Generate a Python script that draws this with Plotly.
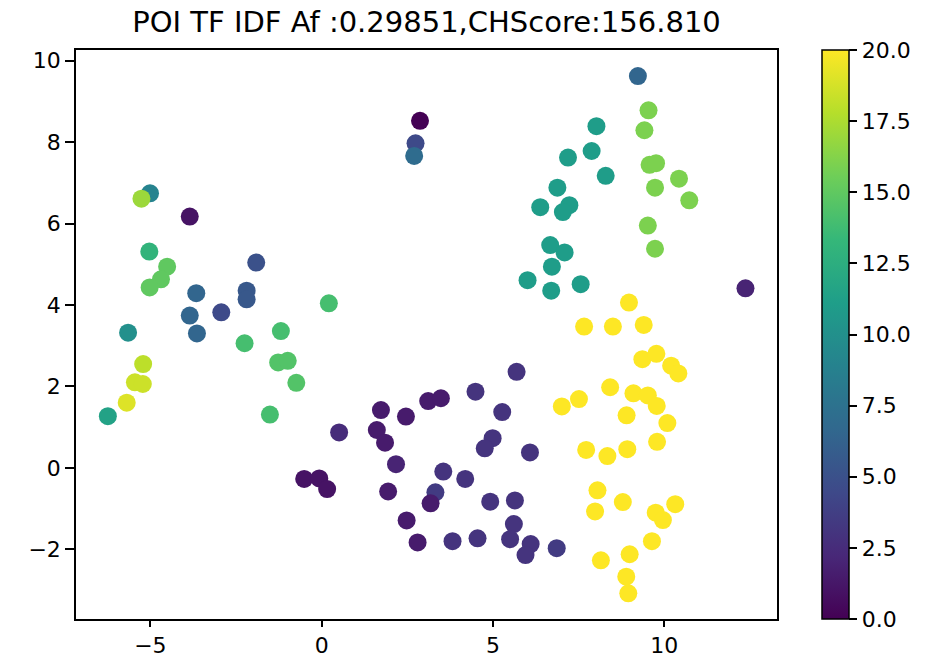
import plotly.graph_objects as go

# Point coordinates
x_vals = [
    -5.01, -5.26, -3.85, -5.03, -4.51, -4.69, -5.02, -1.91, -2.19, -2.19,
    -3.66, -3.85, -3.64, -2.93, 0.21, -5.65, -1.19, -2.25,
    -5.21, -5.45, -5.22, -5.69, -6.24, -1.27, -0.99, -0.74, -1.51,
    0.51, -0.51, -0.07, 0.16,
    1.73, 1.61, 1.85, 2.46, 3.11, 3.48, 4.49, 5.69, 5.27, 4.99, 4.76, 6.08,
    2.17, 3.55, 4.19, 1.94, 3.32, 3.18, 4.92, 5.64, 2.48, 5.61, 5.50, 6.10,
    5.95, 6.86, 2.80, 3.82, 4.55,
    7.66, 8.50, 9.40, 8.97, 9.36, 9.77, 10.20, 10.41, 7.01, 7.51, 8.42, 9.10,
    9.52, 9.78, 8.90, 10.09, 9.79, 7.72, 8.34, 8.92, 8.05, 8.79, 7.98, 10.32,
    9.75, 9.96, 9.64, 8.15, 8.99, 8.89, 8.95,
    9.23, 2.87, 2.74, 2.70,
    8.02, 7.88, 7.19, 8.29, 6.88, 6.38, 7.23, 7.04, 6.67, 7.09, 6.72, 6.01,
    6.70, 7.56,
    9.54, 9.42, 9.57, 9.76, 10.43, 9.73, 10.73, 9.52, 9.73, 12.37,
]
y_vals = [
    6.74, 6.61, 6.17, 5.31, 4.94, 4.63, 4.43, 5.04, 4.35, 4.14,
    4.29, 3.74, 3.30, 3.82, 4.04, 3.32, 3.36, 3.06,
    2.55, 2.10, 2.06, 1.60, 1.27, 2.59, 2.63, 2.09, 1.31,
    0.87, -0.27, -0.26, -0.52,
    1.42, 0.93, 0.62, 1.26, 1.64, 1.71, 1.87, 2.36, 1.37, 0.73, 0.48, 0.38,
    0.09, -0.09, -0.27, -0.58, -0.60, -0.87, -0.83, -0.80, -1.29, -1.38, -1.75, -1.87,
    -2.14, -1.97, -1.83, -1.80, -1.73,
    3.47, 3.47, 3.51, 4.06, 2.67, 2.80, 2.51, 2.32, 1.51, 1.69, 1.98, 1.83,
    1.78, 1.52, 1.29, 1.10, 0.64, 0.44, 0.29, 0.46, -0.55, -0.84, -1.07, -0.89,
    -1.10, -1.28, -1.80, -2.27, -2.12, -2.67, -3.08,
    9.62, 8.52, 7.97, 7.66,
    8.39, 7.78, 7.62, 7.17, 6.88, 6.40, 6.45, 6.28, 5.47, 5.29, 4.94, 4.61,
    4.35, 4.51,
    8.78, 8.29, 7.44, 7.48, 7.10, 6.88, 6.57, 5.95, 5.38, 4.41,
]
c_vals = [
    9, 17, 1, 13, 15, 15, 15, 5, 5.5, 5.5,
    6.5, 6.5, 6.5, 4.5, 14, 10, 14, 14,
    18, 18.5, 18.5, 19, 11.5, 14.5, 14.5, 14.5, 14,
    2.5, 1, 1, 1,
    1.5, 1.5, 1.5, 1.5, 1.5, 1.5, 3, 3, 3, 3, 3, 3,
    2, 3, 3, 1.5, 3.5, 1.5, 3, 3, 1.5, 3, 3, 3,
    3, 3.5, 1.5, 3, 3,
    20, 20, 20, 20, 20, 20, 20, 20, 20, 20, 20, 20,
    20, 20, 20, 20, 20, 20, 20, 20, 20, 20, 20, 20,
    20, 20, 20, 20, 20, 20, 20,
    6.5, 0, 4.5, 7,
    11, 11, 11, 11, 11, 11, 11, 11, 11, 11, 11, 11,
    11, 11,
    16, 16, 16, 16, 16, 16, 16, 16, 16, 2,
]

x_ticks = [-5, 0, 5, 10]
y_ticks = [-2, 0, 2, 4, 6, 8, 10]
title_text = "POI TF IDF Af :0.29851,CHScore:156.810"

FONT = "DejaVu Sans"

fig = go.Figure(
    go.Scatter(
        x=x_vals,
        y=y_vals,
        mode="markers",
        marker=dict(
            size=18,
            color=c_vals,
            colorscale="Viridis",
            cmin=0,
            cmax=20,
            line=dict(width=0),
            opacity=1,
            colorbar=dict(
                x=(822 - 76) / 701,
                xanchor="left",
                xref="paper",
                y=0.5,
                yanchor="middle",
                len=1.0,
                lenmode="fraction",
                thickness=27,
                outlinewidth=1.5,
                outlinecolor="black",
                ticks="outside",
                ticklen=8,
                tickwidth=1.5,
                tickcolor="black",
                tick0=0,
                dtick=2.5,
                tickformat=".1f",
                tickfont=dict(family=FONT, size=22, color="black"),
                ypad=0,
                xpad=0,
            ),
        ),
        hoverinfo="skip",
    )
)

axis_common = dict(
    showgrid=False,
    zeroline=False,
    showline=True,
    linecolor="black",
    linewidth=1.5,
    mirror=True,
    ticks="outside",
    tickwidth=1.5,
    tickcolor="black",
    automargin=False,
    tickfont=dict(family=FONT, size=22, color="black"),
)

fig.update_layout(
    width=940,
    height=660,
    margin=dict(l=76, r=163, t=50, b=41, autoexpand=False),
    paper_bgcolor="white",
    plot_bgcolor="white",
    showlegend=False,
    title=dict(
        text=title_text,
        x=(76 + 777) / 2 / 940,
        xanchor="center",
        y=1 - 22 / 660,
        yanchor="middle",
        font=dict(family=FONT, size=29, color="black"),
    ),
    xaxis=dict(range=[-7.17, 13.29], tickvals=x_ticks, ticklen=6, **axis_common),
    yaxis=dict(range=[-3.71, 10.26], tickvals=y_ticks, ticklen=9, **axis_common),
)

fig.write_html("out.html")
